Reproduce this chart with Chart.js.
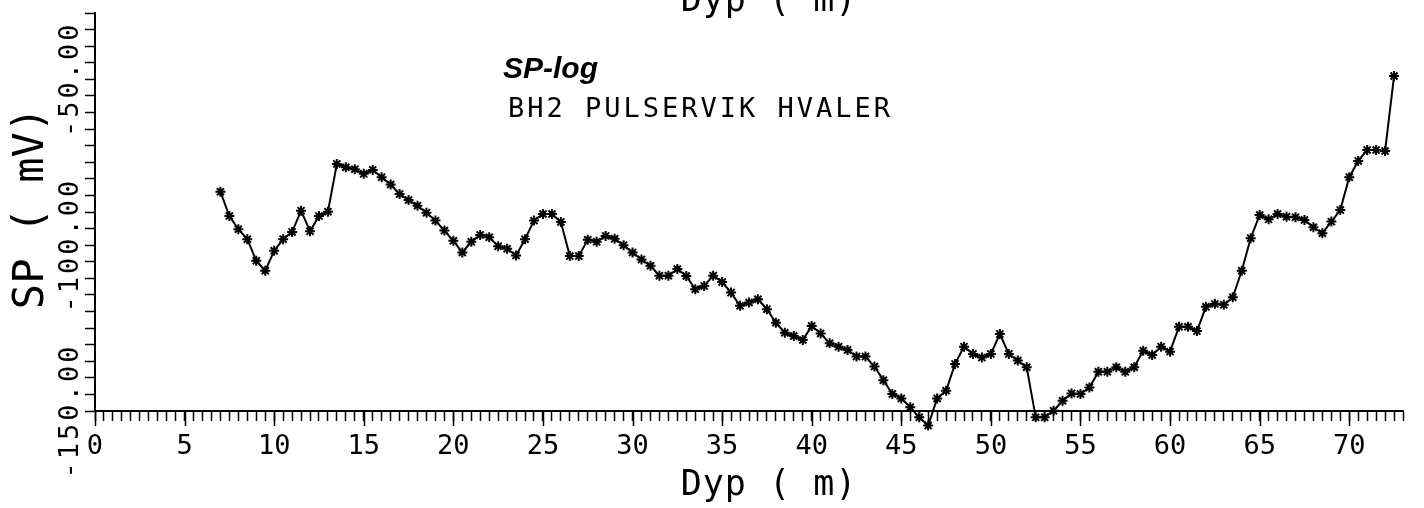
<!DOCTYPE html>
<html>
<head>
<meta charset="utf-8">
<title>SP-log BH2 Pulservik Hvaler</title>
<script src="https://cdn.jsdelivr.net/npm/chart.js@4.4.1/dist/chart.umd.min.js"></script>
<style>
    body { margin: 0; background: #fff; }
    #wrap { width: 1424px; height: 508px; position: relative; }
</style>
</head>
<body>
<div id="wrap"><canvas id="spChart"></canvas></div>
<script>
// depth (m) and SP (mV) readings, one every half metre
const depth = [
    7.0, 7.5, 8.0, 8.5, 9.0, 9.5, 10.0, 10.5, 11.0, 11.5, 12.0, 12.5, 13.0, 13.5,
    14.0, 14.5, 15.0, 15.5, 16.0, 16.5, 17.0, 17.5, 18.0, 18.5, 19.0, 19.5, 20.0,
    20.5, 21.0, 21.5, 22.0, 22.5, 23.0, 23.5, 24.0, 24.5, 25.0, 25.5, 26.0, 26.5,
    27.0, 27.5, 28.0, 28.5, 29.0, 29.5, 30.0, 30.5, 31.0, 31.5, 32.0, 32.5, 33.0,
    33.5, 34.0, 34.5, 35.0, 35.5, 36.0, 36.5, 37.0, 37.5, 38.0, 38.5, 39.0, 39.5,
    40.0, 40.5, 41.0, 41.5, 42.0, 42.5, 43.0, 43.5, 44.0, 44.5, 45.0, 45.5, 46.0,
    46.5, 47.0, 47.5, 48.0, 48.5, 49.0, 49.5, 50.0, 50.5, 51.0, 51.5, 52.0, 52.5,
    53.0, 53.5, 54.0, 54.5, 55.0, 55.5, 56.0, 56.5, 57.0, 57.5, 58.0, 58.5, 59.0,
    59.5, 60.0, 60.5, 61.0, 61.5, 62.0, 62.5, 63.0, 63.5, 64.0, 64.5, 65.0, 65.5,
    66.0, 66.5, 67.0, 67.5, 68.0, 68.5, 69.0, 69.5, 70.0, 70.5, 71.0, 71.5, 72.0,
    72.5
];
const sp = [
    -83.9, -91.2, -95.2, -98.2, -104.7, -107.7, -101.7, -98.2, -96.0, -89.6, -95.8, -91.2, -89.9, -75.5,
    -76.5, -77.1, -78.5, -77.3, -79.5, -81.7, -84.6, -86.4, -88.1, -90.2, -92.6, -95.6, -98.7,
    -102.2, -99.0, -96.9, -97.6, -100.3, -101.1, -103.1, -98.2, -92.6, -90.6, -90.6, -93.0, -103.3,
    -103.3, -98.4, -99.0, -97.2, -98.1, -100.0, -102.2, -104.3, -106.2, -109.2, -109.2, -107.2, -109.3,
    -113.3, -112.3, -109.2, -111.1, -114.3, -118.3, -117.3, -116.3, -119.3, -123.4, -126.4, -127.4, -128.6,
    -124.4, -126.6, -129.6, -130.6, -131.6, -133.6, -133.6, -136.6, -140.7, -144.9, -146.2, -148.9, -151.9,
    -154.4, -146.2, -143.9, -135.8, -130.6, -132.8, -133.9, -132.8, -126.8, -132.8, -134.8, -136.8, -151.9,
    -151.9, -149.9, -146.9, -144.7, -144.9, -142.9, -138.2, -138.2, -136.8, -138.2, -136.8, -131.8, -133.1,
    -130.6, -132.1, -124.6, -124.6, -125.9, -118.6, -117.7, -118.0, -115.7, -107.7, -97.9, -90.9, -92.2,
    -90.6, -91.4, -91.6, -92.4, -94.6, -96.4, -92.9, -89.4, -79.5, -74.6, -71.3, -71.3, -71.6,
    -49.0
];
const yLabels = [-150, -100, -50];
const xMajor = [0, 5, 10, 15, 20, 25, 30, 35, 40, 45, 50, 55, 60, 65, 70];

const plotFont = '"DejaVu Sans Mono", monospace';

function drawText(ctx, text, x, y, font, spacing, align, angle) {
    ctx.save();
    ctx.translate(x, y);
    if (angle) ctx.rotate(angle);
    ctx.font = font;
    ctx.letterSpacing = spacing + 'px';
    ctx.textAlign = align;
    ctx.textBaseline = 'alphabetic';
    ctx.fillStyle = '#000';
    ctx.fillText(text, 0, 0);
    ctx.restore();
}

// points just under the -150 line still get their star marker
let savedBottom = null;
const looseMarkers = {
    id: 'looseMarkers',
    beforeDatasetsDraw(chart) {
        savedBottom = chart.chartArea.bottom;
        chart.chartArea.bottom += 30;
    },
    afterDatasetsDraw(chart) {
        chart.chartArea.bottom = savedBottom;
    }
};

// longer tick marks at every 5 m, rotated SP labels and the headings
const plotterLabels = {
    id: 'plotterLabels',
    afterDraw(chart) {
        const ctx = chart.ctx;
        const xs = chart.scales.x;
        const ys = chart.scales.y;
        const bottom = chart.chartArea.bottom;

        ctx.save();
        ctx.strokeStyle = '#000';
        ctx.lineWidth = 1.5;
        xMajor.forEach(v => {
            const px = Math.round(xs.getPixelForValue(v)) + 0.5;
            ctx.beginPath();
            ctx.moveTo(px, bottom);
            ctx.lineTo(px, bottom + 15);
            ctx.stroke();
        });
        ctx.restore();

        yLabels.forEach(v => {
            drawText(ctx, v.toFixed(2), 78, ys.getPixelForValue(v), '27px ' + plotFont, 3, 'center', -Math.PI / 2);
        });

        drawText(ctx, 'SP ( mV)', 43, 208, '42px ' + plotFont, 0, 'center', -Math.PI / 2);
        drawText(ctx, 'Dyp ( m)', 769, 495, '35px ' + plotFont, 1, 'center', 0);
        drawText(ctx, 'Dyp ( m)', 769, 11, '35px ' + plotFont, 1, 'center', 0);

        drawText(ctx, 'SP-log', 503, 78, 'italic bold 30px "Liberation Sans", Arial, sans-serif', 0, 'left', 0);
        drawText(ctx, 'BH2 PULSERVIK HVALER', 508, 117, '27px ' + plotFont, 3, 'left', 0);
    }
};

const ctx = document.getElementById('spChart').getContext('2d');

let spChart = new Chart(ctx, {
    type: 'line',
    data: {
        datasets: [{
            label: 'SP',
            data: depth.map((d, i) => ({ x: d, y: sp[i] })),
            borderColor: '#000',
            backgroundColor: '#000',
            borderWidth: 2,
            pointStyle: 'star',
            pointRadius: 5,
            pointBorderWidth: 2,
            pointBorderColor: '#000',
            tension: 0,
            clip: false
        }]
    },
    options: {
        responsive: true,
        maintainAspectRatio: false,
        animation: false,
        devicePixelRatio: 1,
        layout: {
            padding: { left: 0, top: 13, right: 21, bottom: 0 }
        },
        plugins: {
            legend: { display: false },
            tooltip: { enabled: false }
        },
        scales: {
            x: {
                type: 'linear',
                min: 0,
                max: 73,
                afterFit: scale => { scale.height = 97; },
                border: { display: true, color: '#000', width: 2 },
                grid: {
                    drawOnChartArea: false,
                    drawTicks: true,
                    tickLength: 10,
                    tickColor: '#000',
                    tickWidth: 1.5
                },
                ticks: {
                    stepSize: 0.5,
                    autoSkip: false,
                    maxRotation: 0,
                    minRotation: 0,
                    padding: 10,
                    color: '#000',
                    font: { family: plotFont, size: 27 },
                    callback: v => (v % 5 === 0 ? String(v) : '')
                }
            },
            y: {
                type: 'linear',
                min: -150,
                max: -30,
                afterFit: scale => { scale.width = 95; },
                border: { display: true, color: '#000', width: 2 },
                grid: {
                    drawOnChartArea: false,
                    drawTicks: true,
                    tickLength: 10,
                    tickColor: '#000',
                    tickWidth: 1.5
                },
                ticks: {
                    stepSize: 5,
                    autoSkip: false,
                    display: false
                }
            }
        }
    },
    plugins: [looseMarkers, plotterLabels]
});
</script>
</body>
</html>
